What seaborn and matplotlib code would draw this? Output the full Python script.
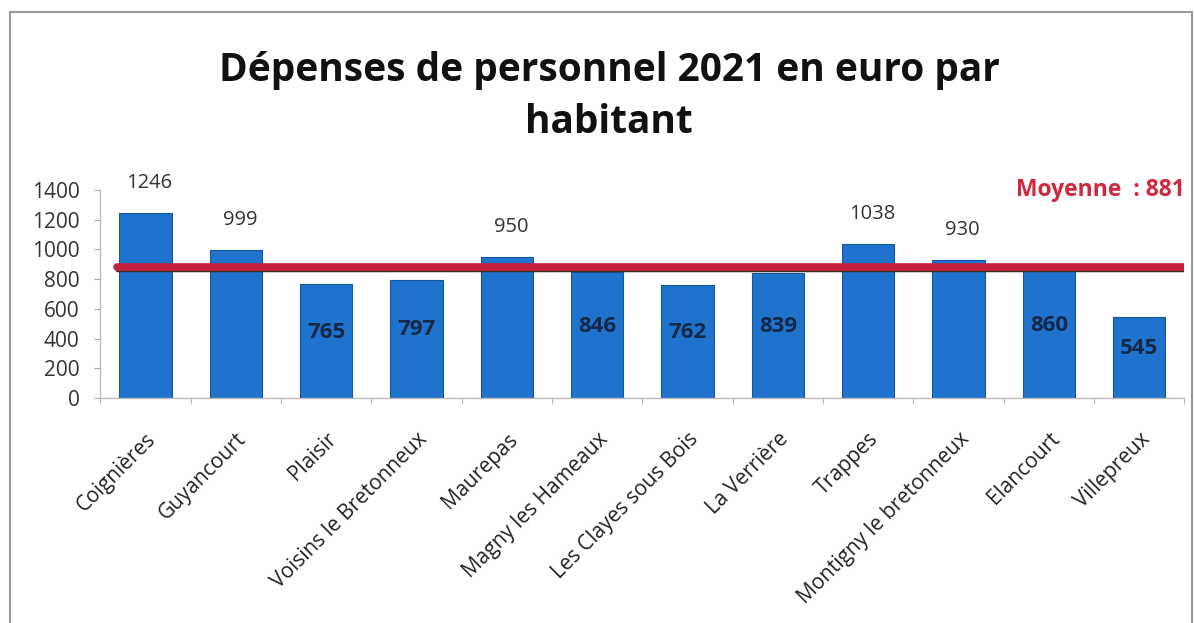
import matplotlib
matplotlib.use("Agg")
import matplotlib.pyplot as plt
import matplotlib.transforms as mtransforms
import pandas as pd
import seaborn as sns
from matplotlib.patches import Rectangle


communes = ['Coignières', 'Guyancourt', 'Plaisir', 'Voisins le Bretonneux',
            'Maurepas', 'Magny les Hameaux', 'Les Clayes sous Bois',
            'La Verrière', 'Trappes', 'Montigny le bretonneux',
            'Elancourt', 'Villepreux']
depenses = [1246, 999, 765, 797, 950, 846, 762, 839, 1038, 930, 860, 545]
moyenne = 881
y_ticks = [0, 200, 400, 600, 800, 1000, 1200, 1400]

BLUE = '#1f73cc'
RED = '#c4213d'

df = pd.DataFrame({'Commune': communes, 'Euro': depenses})

sns.set_style('white')
plt.rcParams['font.family'] = ['Open Sans', 'DejaVu Sans']

fig = plt.figure(figsize=(11.94, 6.23), dpi=100)
ax = fig.add_axes([0.084, 0.361, 0.908, 0.334])

sns.barplot(data=df, x='Commune', y='Euro', color=BLUE, width=0.58,
            saturation=1, ax=ax)
for bar in ax.patches:
    bar.set_edgecolor('#15569c')
    bar.set_linewidth(0.8)

# Mean line (red with darker underside)
ax.axhline(moyenne - 22, xmin=0.015, xmax=1, color='#3d3325', lw=2.5, zorder=3)
ax.axhline(moyenne, xmin=0.015, xmax=1, color=RED, lw=5.5, zorder=4)

# Value labels: above for bars over the mean, inside otherwise
for i, v in enumerate(depenses):
    if v > moyenne:
        ax.annotate(str(v), (i, v), xytext=(3, 14), textcoords='offset points',
                    ha='center', va='bottom', fontsize=14.5, color='#333333',
                    zorder=5)
    else:
        ax.text(i, v / 2 + 60, str(v), ha='center', va='center',
                fontsize=16, fontweight='bold', color='#14284a', zorder=5)

ax.text(1.0, 1400, 'Moyenne  : ' + str(moyenne), transform=ax.get_yaxis_transform(),
        ha='right', va='center', fontsize=16.5, fontweight='bold', color='#d0283f')

ax.set_ylim(0, 1400)
ax.set_xlim(-0.5, len(communes) - 0.5)
ax.set_yticks(y_ticks)
ax.set_yticklabels([str(t) for t in y_ticks], fontsize=15, color='#333333')
ax.set_xticks(range(len(communes)))
ax.set_xticklabels(communes, rotation=45, ha='right', rotation_mode='anchor',
                   fontsize=15, color='#222222')
shift = mtransforms.ScaledTranslation(6 / 100, 0, fig.dpi_scale_trans)
for lab in ax.get_xticklabels():
    lab.set_transform(lab.get_transform() + shift)
ax.tick_params(axis='x', length=0, pad=22)
ax.tick_params(axis='y', length=4, color='#aaaaaa', pad=11, left=True)
ax.set_xticks([k + 0.5 for k in range(-1, len(communes))], minor=True)
ax.tick_params(axis='x', which='minor', length=4, color='#aaaaaa', bottom=True)
ax.set_xlabel('')
ax.set_ylabel('')
for side in ['top', 'right']:
    ax.spines[side].set_visible(False)
for side in ['left', 'bottom']:
    ax.spines[side].set_color('#bbbbbb')
    ax.spines[side].set_linewidth(1)

fig.text(0.51, 0.845, 'Dépenses de personnel 2021 en euro par\nhabitant',
         ha='center', va='center', fontsize=28, fontweight='bold',
         color='#111111', linespacing=1.45)

# Outer frame
fig.patches.append(Rectangle((0.008, -0.01), 0.99, 0.99, transform=fig.transFigure,
                             fill=False, edgecolor='#999999', lw=1.5))

fig.savefig('out.png', dpi=100)
